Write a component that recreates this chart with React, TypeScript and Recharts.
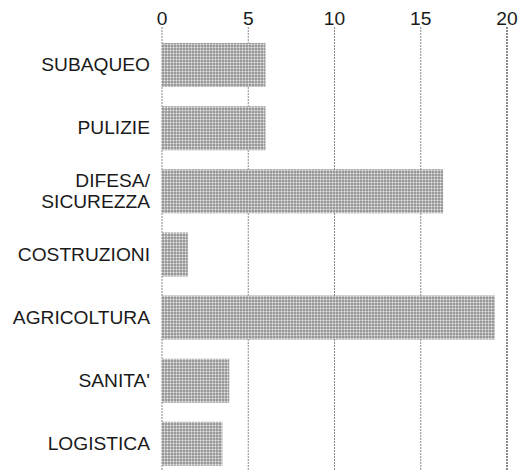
import * as React from "react";
import {
  Bar,
  BarChart,
  CartesianGrid,
  ReferenceLine,
  XAxis,
  YAxis,
} from "recharts";

const categories = [
  "SUBAQUEO",
  "PULIZIE",
  "DIFESA/\nSICUREZZA",
  "COSTRUZIONI",
  "AGRICOLTURA",
  "SANITA'",
  "LOGISTICA",
];
const values = [6, 6, 16.3, 1.5, 19.3, 3.9, 3.5];
const xTicks = [0, 5, 10, 15, 20];

const data = categories.map((name, i) => ({ name, value: values[i] }));

const FONT = "'Liberation Sans', Arial, Helvetica, sans-serif";

function CategoryTick(props: any) {
  const { x, y, payload } = props;
  const lines = String(payload.value).split("\n");
  const lh = 21;
  const start = -((lines.length - 1) * lh) / 2;
  return (
    <text
      x={x}
      y={y}
      textAnchor="end"
      fill="#1a1a1a"
      fontSize={19.2}
      fontFamily={FONT}
    >
      {lines.map((l, i) => (
        <tspan key={i} x={x} dy={i === 0 ? start : lh} dominantBaseline="central">
          {l}
        </tspan>
      ))}
    </text>
  );
}

export default function App() {
  return (
    <div
      style={{
        position: "absolute",
        left: 0,
        top: 0,
        width: 523,
        height: 470,
        overflow: "hidden",
        background: "#fff",
      }}
    >
      <BarChart
        width={523}
        height={475}
        data={data}
        layout="vertical"
        margin={{ top: 0, right: 16, bottom: 0, left: 0 }}
        barSize={44}
      >
        <defs>
          <pattern id="dots" width="3" height="3" patternUnits="userSpaceOnUse">
            <rect width="3" height="3" fill="#9a9a9a" />
            <rect x="0" y="2" width="3" height="1" fill="#bdbdbd" />
            <rect x="2" y="0" width="1" height="3" fill="#bdbdbd" />
            <rect x="2" y="2" width="1" height="1" fill="#e6e6e6" />
          </pattern>
        </defs>
        <CartesianGrid
          horizontal={false}
          stroke="#8a8a8a"
          strokeDasharray="2 1"
        />
        <XAxis
          type="number"
          orientation="top"
          domain={[0, 20]}
          ticks={xTicks}
          height={27}
          axisLine={false}
          tickLine={false}
          tickSize={0}
          tickMargin={2}
          tick={{ fill: "#1a1a1a", fontSize: 19.2, fontFamily: FONT }}
          interval={0}
        />
        <YAxis
          type="category"
          dataKey="name"
          width={162}
          axisLine={false}
          tickLine={false}
          tickSize={0}
          tickMargin={12}
          padding={{ top: 6, bottom: 0 }}
          tick={<CategoryTick />}
          interval={0}
        />
        <ReferenceLine x={20} stroke="#8a8a8a" strokeWidth={2} strokeDasharray="2 1" />
        <Bar dataKey="value" fill="url(#dots)" isAnimationActive={false} />
      </BarChart>
    </div>
  );
}
